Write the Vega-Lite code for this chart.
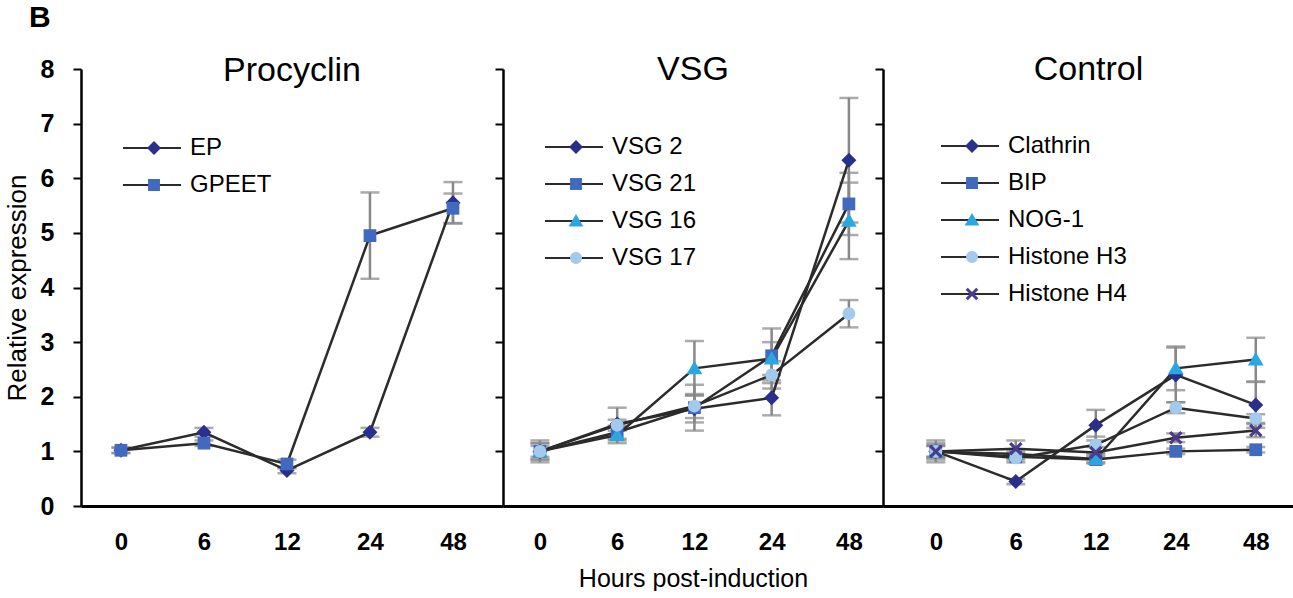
{
  "$schema": "https://vega.github.io/schema/vega-lite/v6.json",
  "padding": {"left": 4, "top": 3, "right": 0, "bottom": 0},
  "bounds": "flush",
  "spacing": 0,
  "background": "white",
  "title": {"text": "B", "anchor": "start", "fontSize": 30, "fontWeight": "bold", "font": "Liberation Sans", "color": "black", "dx": 25, "offset": 20},
  "config": {
    "view": {"stroke": null},
    "axis": {"grid": false, "domainColor": "black", "tickColor": "black", "labelColor": "black", "titleColor": "black", "labelFont": "Liberation Sans", "titleFont": "Liberation Sans", "labelFontWeight": "bold", "titleFontWeight": "normal"},
    "legend": {"labelFont": "Liberation Sans", "labelColor": "black", "title": null, "orient": "none", "labelFontSize": 24, "rowPadding": 13, "clipHeight": 24}
  },
  "datasets": {
    "d": [
      {"panel": "Procyclin", "s": "EP", "h": 0, "v": 1.02, "e": 0.05},
      {"panel": "Procyclin", "s": "EP", "h": 6, "v": 1.35, "e": 0.08},
      {"panel": "Procyclin", "s": "EP", "h": 12, "v": 0.65, "e": 0.05},
      {"panel": "Procyclin", "s": "EP", "h": 24, "v": 1.35, "e": 0.08},
      {"panel": "Procyclin", "s": "EP", "h": 48, "v": 5.55, "e": 0.38},
      {"panel": "Procyclin", "s": "GPEET", "h": 0, "v": 1.02, "e": 0.05},
      {"panel": "Procyclin", "s": "GPEET", "h": 6, "v": 1.15, "e": 0.05},
      {"panel": "Procyclin", "s": "GPEET", "h": 12, "v": 0.77, "e": 0.08},
      {"panel": "Procyclin", "s": "GPEET", "h": 24, "v": 4.95, "e": 0.79},
      {"panel": "Procyclin", "s": "GPEET", "h": 48, "v": 5.45, "e": 0.27},
      {"panel": "VSG", "s": "VSG 2", "h": 0, "v": 1.0, "e": 0.2},
      {"panel": "VSG", "s": "VSG 2", "h": 6, "v": 1.5, "e": 0.3},
      {"panel": "VSG", "s": "VSG 2", "h": 12, "v": 1.78, "e": 0.25},
      {"panel": "VSG", "s": "VSG 2", "h": 24, "v": 1.98, "e": 0.32},
      {"panel": "VSG", "s": "VSG 2", "h": 48, "v": 6.33, "e": 1.14},
      {"panel": "VSG", "s": "VSG 21", "h": 0, "v": 1.0, "e": 0.15},
      {"panel": "VSG", "s": "VSG 21", "h": 6, "v": 1.35, "e": 0.12},
      {"panel": "VSG", "s": "VSG 21", "h": 12, "v": 1.8, "e": 0.42},
      {"panel": "VSG", "s": "VSG 21", "h": 24, "v": 2.75, "e": 0.5},
      {"panel": "VSG", "s": "VSG 21", "h": 48, "v": 5.53, "e": 0.57},
      {"panel": "VSG", "s": "VSG 16", "h": 0, "v": 1.0, "e": 0.1},
      {"panel": "VSG", "s": "VSG 16", "h": 6, "v": 1.3, "e": 0.15},
      {"panel": "VSG", "s": "VSG 16", "h": 12, "v": 2.52, "e": 0.5},
      {"panel": "VSG", "s": "VSG 16", "h": 24, "v": 2.7, "e": 0.3},
      {"panel": "VSG", "s": "VSG 16", "h": 48, "v": 5.22, "e": 0.7},
      {"panel": "VSG", "s": "VSG 17", "h": 0, "v": 1.0, "e": 0.15},
      {"panel": "VSG", "s": "VSG 17", "h": 6, "v": 1.48, "e": 0.1},
      {"panel": "VSG", "s": "VSG 17", "h": 12, "v": 1.83, "e": 0.22},
      {"panel": "VSG", "s": "VSG 17", "h": 24, "v": 2.4, "e": 0.25},
      {"panel": "VSG", "s": "VSG 17", "h": 48, "v": 3.52, "e": 0.25},
      {"panel": "Control", "s": "Clathrin", "h": 0, "v": 1.0, "e": 0.2},
      {"panel": "Control", "s": "Clathrin", "h": 6, "v": 0.45, "e": 0.05},
      {"panel": "Control", "s": "Clathrin", "h": 12, "v": 1.48, "e": 0.28},
      {"panel": "Control", "s": "Clathrin", "h": 24, "v": 2.4, "e": 0.5},
      {"panel": "Control", "s": "Clathrin", "h": 48, "v": 1.85, "e": 0.42},
      {"panel": "Control", "s": "BIP", "h": 0, "v": 1.0, "e": 0.15},
      {"panel": "Control", "s": "BIP", "h": 6, "v": 0.9, "e": 0.05},
      {"panel": "Control", "s": "BIP", "h": 12, "v": 0.85, "e": 0.05},
      {"panel": "Control", "s": "BIP", "h": 24, "v": 1.0, "e": 0.05},
      {"panel": "Control", "s": "BIP", "h": 48, "v": 1.03, "e": 0.05},
      {"panel": "Control", "s": "NOG-1", "h": 0, "v": 1.0, "e": 0.1},
      {"panel": "Control", "s": "NOG-1", "h": 6, "v": 0.95, "e": 0.05},
      {"panel": "Control", "s": "NOG-1", "h": 12, "v": 0.86, "e": 0.08},
      {"panel": "Control", "s": "NOG-1", "h": 24, "v": 2.52, "e": 0.4},
      {"panel": "Control", "s": "NOG-1", "h": 48, "v": 2.68, "e": 0.4},
      {"panel": "Control", "s": "Histone H3", "h": 0, "v": 1.0, "e": 0.1},
      {"panel": "Control", "s": "Histone H3", "h": 6, "v": 0.88, "e": 0.08},
      {"panel": "Control", "s": "Histone H3", "h": 12, "v": 1.12, "e": 0.15},
      {"panel": "Control", "s": "Histone H3", "h": 24, "v": 1.8, "e": 0.1},
      {"panel": "Control", "s": "Histone H3", "h": 48, "v": 1.6, "e": 0.08},
      {"panel": "Control", "s": "Histone H4", "h": 0, "v": 1.0, "e": 0.12},
      {"panel": "Control", "s": "Histone H4", "h": 6, "v": 1.05, "e": 0.15},
      {"panel": "Control", "s": "Histone H4", "h": 12, "v": 0.98, "e": 0.1},
      {"panel": "Control", "s": "Histone H4", "h": 24, "v": 1.25, "e": 0.08},
      {"panel": "Control", "s": "Histone H4", "h": 48, "v": 1.38, "e": 0.12}
    ]
  },
  "resolve": {"scale": {"x": "independent", "color": "independent", "shape": "independent", "stroke": "independent"}, "legend": {"color": "independent", "shape": "independent", "stroke": "independent"}},
  "hconcat": [
    {
      "width": 422, "height": 437,
      "title": {"text": "Procyclin", "fontSize": 34, "font": "Liberation Sans", "fontWeight": "normal", "color": "black", "offset": -24, "dy": 34, "baseline": "alphabetic", "anchor": "middle", "frame": "group"},
      "data": {"name": "d"},
      "transform": [{"filter": "datum.panel === 'Procyclin'"}],
      "encoding": {
        "x": {"field": "h", "type": "ordinal", "scale": {"type": "point", "padding": 0.542, "align": 0.444}, "axis": {"title": null, "labelAngle": 0, "ticks": false, "domainWidth": 3, "labelFontSize": 24, "labelPadding": 24}},
        "y": {"field": "v", "type": "quantitative", "scale": {"domain": [0, 8]}, "axis": {"title": "Relative expression", "titleFontSize": 26, "titlePadding": 10, "values": [0,1,2,3,4,5,6,7,8], "tickSize": 8, "tickWidth": 2, "domainWidth": 2.5, "labelFontSize": 25, "labelPadding": 19}}
      },
      "layer": [
        {"mark": {"type": "errorbar", "rule": {"color": "#888888", "strokeWidth": 2.5}, "ticks": {"color": "#888888", "size": 19, "thickness": 2.5}}, "encoding": {"yError": {"field": "e"}}},
        {"mark": {"type": "line", "strokeWidth": 2.5},
         "encoding": {"stroke": {"field": "s", "type": "nominal", "scale": {"domain": ["GPEET", "EP"], "range": ["#2b2b2b", "#2b2b2b"]},
           "legend": {"legendX": 42, "legendY": 67, "symbolType": "stroke", "symbolSize": 3844, "symbolStrokeWidth": 2, "symbolOffset": -5, "labelExpr": "''"}}}},
        {"mark": {"type": "point", "filled": true, "opacity": 1, "size": 225},
         "encoding": {
           "color": {"field": "s", "type": "nominal", "scale": {"domain": ["EP", "GPEET"], "range": ["#2B2F8C", "#4169BF"]},
             "legend": {"legendX": 42, "legendY": 67, "symbolSize": 196, "symbolOffset": 19, "labelOffset": 24, "symbolOpacity": 1}},
           "shape": {"field": "s", "type": "nominal", "scale": {"domain": ["EP", "GPEET"], "range": ["M0,-1L1,0L0,1L-1,0Z", "M-0.85,-0.85H0.85V0.85H-0.85Z"]},
             "legend": {"legendX": 42, "legendY": 67, "symbolSize": 196, "symbolOffset": 19, "labelOffset": 24, "symbolOpacity": 1}}
         }}
      ]
    },
    {
      "width": 380, "height": 437,
      "title": {"text": "VSG", "fontSize": 34, "font": "Liberation Sans", "fontWeight": "normal", "color": "black", "offset": -12, "dy": 34, "baseline": "alphabetic", "anchor": "middle", "frame": "group"},
      "data": {"name": "d"},
      "transform": [{"filter": "datum.panel === 'VSG'"}],
      "encoding": {
        "x": {"field": "h", "type": "ordinal", "scale": {"type": "point", "padding": 0.46, "align": 0.52}, "axis": {"title": "Hours post-induction", "titleFontSize": 25, "titlePadding": 12, "labelAngle": 0, "ticks": false, "domainWidth": 3, "labelFontSize": 24, "labelPadding": 24}},
        "y": {"field": "v", "type": "quantitative", "scale": {"domain": [0, 8]}, "axis": {"title": null, "labels": false, "values": [0,1,2,3,4,5,6,7,8], "tickSize": 8, "tickWidth": 2, "domainWidth": 2.5}}
      },
      "layer": [
        {"mark": {"type": "errorbar", "rule": {"color": "#888888", "strokeWidth": 2.5}, "ticks": {"color": "#888888", "size": 19, "thickness": 2.5}}, "encoding": {"yError": {"field": "e"}}},
        {"mark": {"type": "line", "strokeWidth": 2.5},
         "encoding": {"stroke": {"field": "s", "type": "nominal", "scale": {"domain": ["VSG 17", "VSG 16", "VSG 21", "VSG 2"], "range": ["#2b2b2b", "#2b2b2b", "#2b2b2b", "#2b2b2b"]},
           "legend": {"legendX": 42, "legendY": 66, "symbolType": "stroke", "symbolSize": 3844, "symbolStrokeWidth": 2, "symbolOffset": -5, "labelExpr": "''"}}}},
        {"mark": {"type": "point", "filled": true, "opacity": 1, "size": 225},
         "encoding": {
           "color": {"field": "s", "type": "nominal", "scale": {"domain": ["VSG 2", "VSG 21", "VSG 16", "VSG 17"], "range": ["#2B2F8C", "#4169BF", "#2AA7E1", "#A3C9EC"]},
             "legend": {"legendX": 42, "legendY": 66, "symbolSize": 196, "symbolOffset": 19, "labelOffset": 24, "symbolOpacity": 1}},
           "shape": {"field": "s", "type": "nominal", "scale": {"domain": ["VSG 2", "VSG 21", "VSG 16", "VSG 17"], "range": ["M0,-1L1,0L0,1L-1,0Z", "M-0.85,-0.85H0.85V0.85H-0.85Z", "M0,-1L1.05,0.8H-1.05Z", "M0.85,0A0.85,0.85,0,1,1,-0.85,0A0.85,0.85,0,1,1,0.85,0Z"]},
             "legend": {"legendX": 42, "legendY": 66, "symbolSize": 196, "symbolOffset": 19, "labelOffset": 24, "symbolOpacity": 1}}
         }}
      ]
    },
    {
      "width": 411, "height": 437,
      "title": {"text": "Control", "fontSize": 34, "font": "Liberation Sans", "fontWeight": "normal", "color": "black", "offset": -12, "dy": 34, "baseline": "alphabetic", "anchor": "middle", "frame": "group"},
      "data": {"name": "d"},
      "transform": [{"filter": "datum.panel === 'Control'"}],
      "encoding": {
        "x": {"field": "h", "type": "ordinal", "scale": {"type": "point", "padding": 0.569, "align": 0.58}, "axis": {"title": null, "labelAngle": 0, "ticks": false, "domainWidth": 3, "labelFontSize": 24, "labelPadding": 24}},
        "y": {"field": "v", "type": "quantitative", "scale": {"domain": [0, 8]}, "axis": {"title": null, "labels": false, "values": [0,1,2,3,4,5,6,7,8], "tickSize": 8, "tickWidth": 2, "domainWidth": 2.5}}
      },
      "layer": [
        {"mark": {"type": "errorbar", "rule": {"color": "#888888", "strokeWidth": 2.5}, "ticks": {"color": "#888888", "size": 19, "thickness": 2.5}}, "encoding": {"yError": {"field": "e"}}},
        {"mark": {"type": "line", "strokeWidth": 2.5},
         "encoding": {"stroke": {"field": "s", "type": "nominal", "scale": {"domain": ["Histone H4", "Histone H3", "NOG-1", "BIP", "Clathrin"], "range": ["#2b2b2b", "#2b2b2b", "#2b2b2b", "#2b2b2b", "#2b2b2b"]},
           "legend": {"legendX": 58, "legendY": 65, "symbolType": "stroke", "symbolSize": 3844, "symbolStrokeWidth": 2, "symbolOffset": -5, "labelExpr": "''"}}}},
        {"mark": {"type": "point", "filled": true, "opacity": 1, "size": 225},
         "encoding": {
           "color": {"field": "s", "type": "nominal", "scale": {"domain": ["Clathrin", "BIP", "NOG-1", "Histone H3", "Histone H4"], "range": ["#2B2F8C", "#4169BF", "#2AA7E1", "#A3C9EC", "#4A3B8E"]},
             "legend": {"legendX": 58, "legendY": 65, "symbolSize": 196, "symbolOffset": 19, "labelOffset": 24, "symbolOpacity": 1}},
           "shape": {"field": "s", "type": "nominal", "scale": {"domain": ["Clathrin", "BIP", "NOG-1", "Histone H3", "Histone H4"], "range": ["M0,-1L1,0L0,1L-1,0Z", "M-0.85,-0.85H0.85V0.85H-0.85Z", "M0,-1L1.05,0.8H-1.05Z", "M0.85,0A0.85,0.85,0,1,1,-0.85,0A0.85,0.85,0,1,1,0.85,0Z", "M-0.9,-0.6L-0.6,-0.9L0,-0.3L0.6,-0.9L0.9,-0.6L0.3,0L0.9,0.6L0.6,0.9L0,0.3L-0.6,0.9L-0.9,0.6L-0.3,0Z"]},
             "legend": {"legendX": 58, "legendY": 65, "symbolSize": 196, "symbolOffset": 19, "labelOffset": 24, "symbolOpacity": 1}}
         }}
      ]
    }
  ]
}
